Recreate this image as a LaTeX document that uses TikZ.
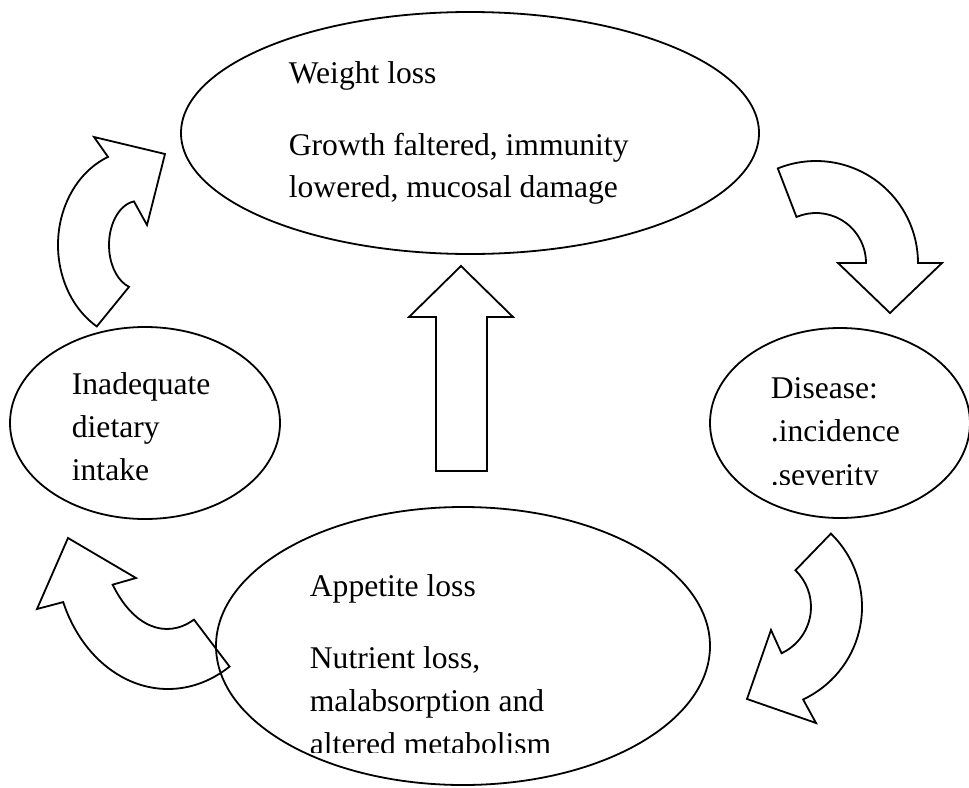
\documentclass[tikz,border=0pt]{standalone}
\usepackage{fontspec}
\setmainfont{Liberation Serif}
\usetikzlibrary{shapes.geometric,calc}
\begin{document}
\begin{tikzpicture}[x=0.5pt, y=-0.5pt, line width=0.9pt, line join=miter,
  blob/.style={draw, ellipse, inner sep=0pt, outer sep=0pt},
  txt/.style={anchor=base west, inner sep=0pt, font=\fontsize{15.8}{21.5}\selectfont}]
\useasboundingbox (0,0) rectangle (969,787);
% ellipses
\node[blob, minimum width=289pt, minimum height=121pt] (wloss) at (470,133) {};
\node[blob, minimum width=135pt, minimum height=96pt] (intake) at (145,423) {};
\node[blob, minimum width=130pt, minimum height=95pt] (disease) at (840,423) {};
\node[blob, minimum width=247pt, minimum height=139pt] (appetite) at (463,646) {};
% texts
\node[txt] (w1) at (288,83) {Weight loss};
\node[txt] (w2) at (288,155) {Growth faltered, immunity};
\node[txt] (w3) at (288,197) {lowered, mucosal damage};
\node[txt] (i1) at (71,394) {Inadequate};
\node[txt] (i2) at (71,437) {dietary};
\node[txt] (i3) at (71,480) {intake};
\begin{scope}
\clip (700,300) rectangle (969,484);
\node[txt] (d1) at (770,398) {Disease:};
\node[txt] (d2) at (770,441) {.incidence};
\node[txt] (d3) at (770,485) {.severity};
\end{scope}
\begin{scope}
\clip (250,550) rectangle (700,752);
\node[txt] (a1) at (309,596) {Appetite loss};
\node[txt] (a2) at (309,668) {Nutrient loss,};
\node[txt] (a3) at (309,711) {malabsorption and};
\node[txt] (a4) at (309,754) {altered metabolism};
\end{scope}
% block arrows
\coordinate (tl) at (138,245);
\coordinate (tr) at (816,263);
\coordinate (bl) at (168,550);
\coordinate (blin) at (167,500);
\coordinate (br) at (760,607);
\draw (436,471) -- (436,317) -- (409,317) -- (461,266) -- (513,317) -- (487,317) -- (487,471) -- cycle;
\draw (tl) ++(121:80 and 95) arc[start angle=121, end angle=248, x radius=80, y radius=95]
  -- (94,137) -- (165,154) -- (147,225) -- ($(tl)+(262:29 and 44)$)
  arc[start angle=262, end angle=108, x radius=29, y radius=44] -- cycle;
\draw (tr) ++(248:102) arc[start angle=248, end angle=360, radius=102]
  -- ++(24,0) -- (890,313) -- (838,263) -- (866,263)
  arc[start angle=0, end angle=-113, radius=50] -- cycle;
\draw (br) ++(-46:102) arc[start angle=-46, end angle=65, radius=102]
  -- (816,723) -- (747,699) -- (771,630) -- ($(br)+(65:51)$)
  arc[start angle=65, end angle=-46, radius=51] -- cycle;
\draw (bl) ++(57:113 and 139) arc[start angle=57, end angle=158, x radius=113, y radius=139]
  -- (37,609) -- (68,538) -- (136,578) -- ($(blin)+(139:72 and 129)$)
  arc[start angle=139, end angle=68, x radius=72, y radius=129] -- cycle;
\end{tikzpicture}
\end{document}
